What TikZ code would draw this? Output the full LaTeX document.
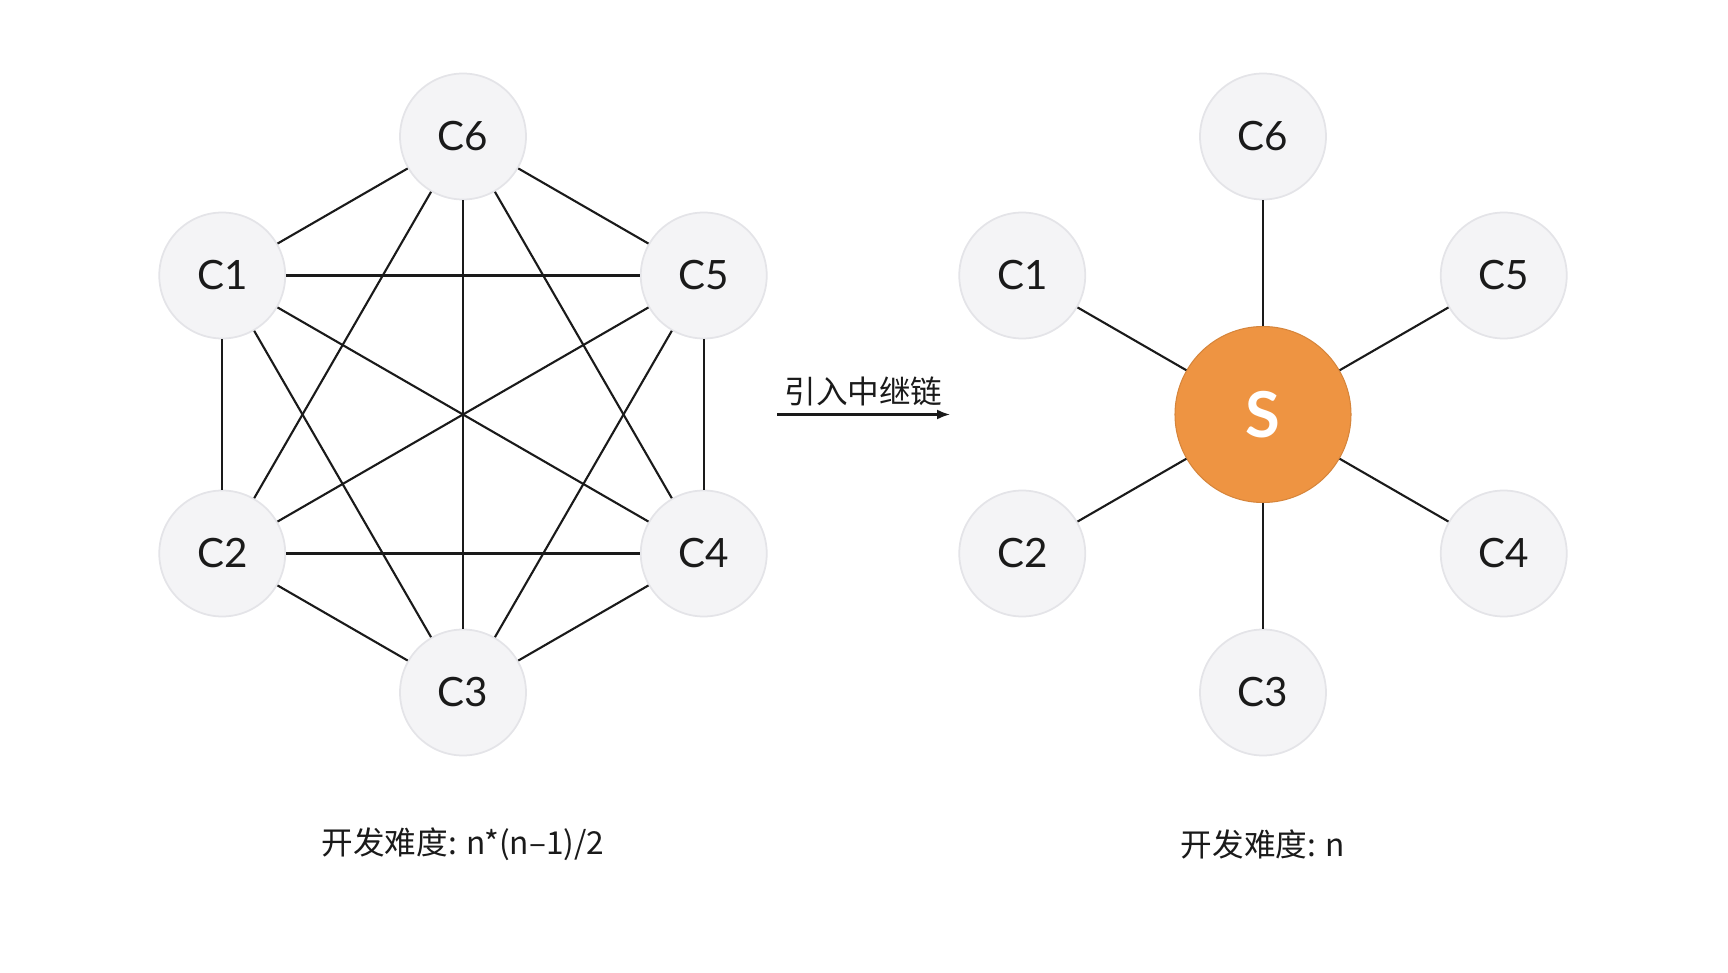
\documentclass[tikz,border=0pt]{standalone}
\usepackage{fontspec}
\setmainfont{Noto Sans CJK SC}
\newfontfamily\labelfont{Lato}
\usetikzlibrary{arrows.meta,calc}
\definecolor{nodegray}{HTML}{F4F4F6}
\definecolor{nodeedge}{HTML}{E4E4E8}
\definecolor{relayorange}{HTML}{EE9442}
\definecolor{inkblack}{HTML}{1A1A1A}
\tikzset{
  chain/.style={circle, fill=nodegray, draw=nodeedge, line width=0.5pt,
    minimum size=1.26cm, inner sep=0pt, text=inkblack, font=\labelfont\fontsize{11.5}{11.5}\selectfont},
  relay/.style={circle, fill=relayorange, draw=relayorange!90!black, line width=0.3pt,
    minimum size=1.76cm, inner sep=0pt, text=white, font=\labelfont\bfseries\fontsize{18}{18}\selectfont},
  link/.style={line width=0.6pt, inkblack},
  caption/.style={text=inkblack, font=\fontsize{9}{9}\selectfont}
}
\begin{document}
\begin{tikzpicture}
    \useasboundingbox (0,0) rectangle (17.28,9.72);

    % 全连接: 每两条链之间都要对接
    \foreach \k in {1,...,6}
        \node[chain] (l\k) at ({4.63+2.78*cos(90+60*\k)}, {5.575+2.78*sin(90+60*\k)}) {C\k};
    \foreach \a in {1,...,5} {
        \pgfmathtruncatemacro{\b}{\a+1}
        \foreach \c in {\b,...,6}
            \draw[link] (l\a) -- (l\c);
    }
    \node[caption] (costA) at (4.63,1.28) {开发难度: n*(n–1)/2};

    % 引入中继链
    \coordinate (arrS) at (7.77,5.575);
    \coordinate (arrE) at (9.50,5.575);
    \draw[link, -{Latex[length=1.3mm, width=1mm]}] (arrS) -- (arrE);
    \node[caption, above=-0.4mm] (relayTxt) at ($(arrS)!0.5!(arrE)$) {引入中继链};

    % 星形: 每条链只连中继链
    \node[relay] (s) at (12.63,5.575) {S};
    \foreach \k in {1,...,6} {
        \node[chain] (r\k) at ({12.63+2.78*cos(90+60*\k)}, {5.575+2.78*sin(90+60*\k)}) {C\k};
        \draw[link] (s) -- (r\k);
    }
    \node[caption] (costB) at (12.63,1.28) {开发难度: n};
\end{tikzpicture}
\end{document}
